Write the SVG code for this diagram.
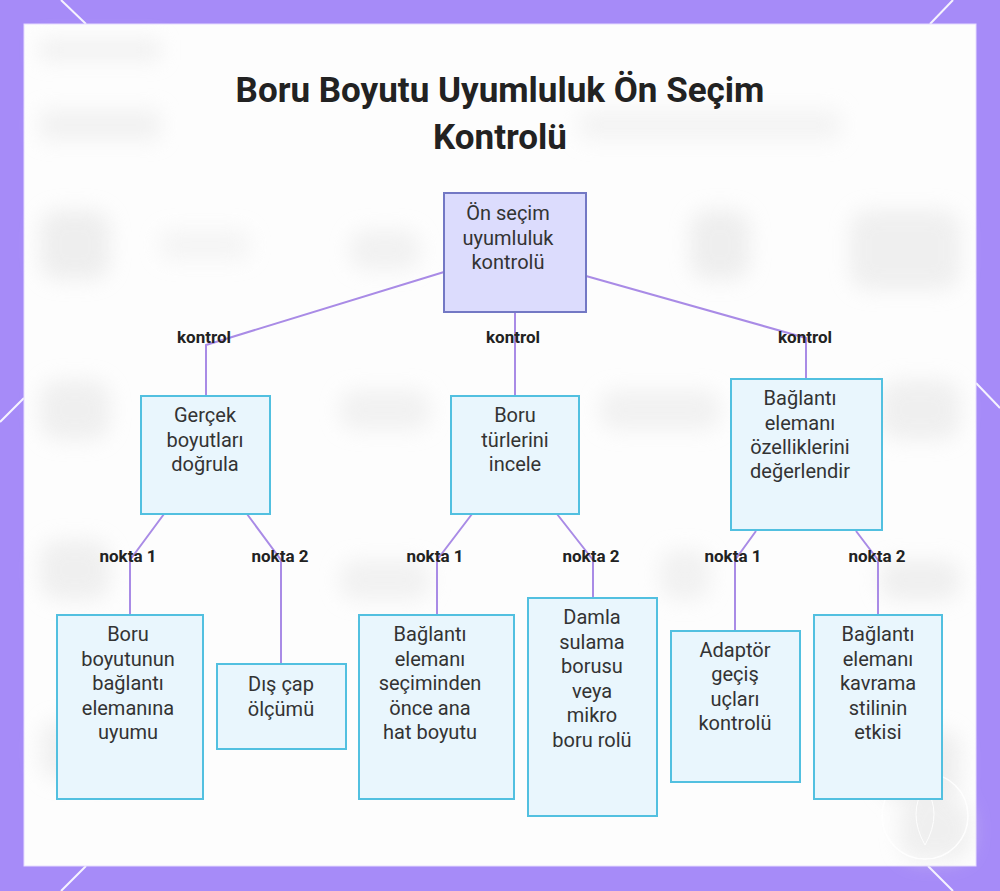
<svg xmlns="http://www.w3.org/2000/svg" width="1000" height="891" viewBox="0 0 1000 891">
<defs>
<style>
.bgline{stroke:#ffffff;stroke-width:2;opacity:0.9}
.node rect{stroke-width:2}
.root rect{fill:#dcdcfd;stroke:#7378c4}
.leaf rect{fill:#e9f6fd;stroke:#52c0e0}
.node text{font-family:Roboto,"Liberation Sans",sans-serif;font-size:20px;fill:#333333;text-anchor:middle;dominant-baseline:central}
.edge{fill:none;stroke:#a98be6;stroke-width:2}
.lbl{font-family:Roboto,"Liberation Sans",sans-serif;font-size:17px;font-weight:bold;fill:#222222;text-anchor:middle;dominant-baseline:central}
.title{font-family:Roboto,"Liberation Sans",sans-serif;font-size:35px;font-weight:bold;fill:#222222;text-anchor:middle}
</style>
<filter id="blur" x="-30%" y="-30%" width="160%" height="160%"><feGaussianBlur stdDeviation="10"/></filter>
</defs>
<rect x="0" y="0" width="1000" height="891" fill="#a68bf8"/>
<g id="frame-lines">
<line class="bgline" x1="61" y1="0" x2="86" y2="24"/>
<line class="bgline" x1="953" y1="0" x2="930" y2="24"/>
<line class="bgline" x1="0" y1="422" x2="24" y2="398"/>
<line class="bgline" x1="976" y1="383" x2="1000" y2="408"/>
<line class="bgline" x1="86" y1="866" x2="61" y2="891"/>
<line class="bgline" x1="928" y1="866" x2="953" y2="891"/>
</g>
<rect x="24" y="24" width="952" height="842" fill="#fdfdfd" stroke="#e6dcff" stroke-width="1"/>
<g id="blurred-bg" filter="url(#blur)" opacity="0.55">
<rect x="40" y="40" width="120" height="20" fill="#e6e6e6"/>
<rect x="40" y="110" width="120" height="30" fill="#e8e8e8"/>
<rect x="580" y="110" width="260" height="30" fill="#ececec"/>
<rect x="40" y="210" width="70" height="70" rx="20" fill="#e2e2e2"/>
<rect x="160" y="230" width="90" height="30" rx="10" fill="#eeeeee"/>
<rect x="350" y="230" width="70" height="40" rx="15" fill="#e8e8e8"/>
<rect x="690" y="210" width="60" height="70" rx="20" fill="#e2e2e2"/>
<rect x="850" y="210" width="110" height="80" rx="20" fill="#e4e4e4"/>
<rect x="40" y="380" width="70" height="60" rx="20" fill="#e4e4e4"/>
<rect x="340" y="390" width="90" height="40" rx="15" fill="#e8e8e8"/>
<rect x="600" y="390" width="120" height="40" rx="15" fill="#e8e8e8"/>
<rect x="880" y="380" width="80" height="60" rx="20" fill="#e4e4e4"/>
<rect x="40" y="540" width="70" height="60" rx="20" fill="#e4e4e4"/>
<rect x="340" y="560" width="90" height="40" rx="15" fill="#e8e8e8"/>
<rect x="660" y="550" width="50" height="50" rx="15" fill="#e8e8e8"/>
<rect x="880" y="560" width="80" height="40" rx="15" fill="#e4e4e4"/>
<rect x="40" y="720" width="80" height="60" rx="20" fill="#e6e6e6"/>
<rect x="880" y="730" width="80" height="70" rx="20" fill="#e2e2e2"/>
<rect x="900" y="800" width="70" height="60" rx="20" fill="#e4e4e4"/>
</g>
<g id="watermark" opacity="0.9">
<circle cx="925" cy="816" r="43" fill="none" stroke="#ffffff" stroke-width="1.5"/>
<path d="M925,786 Q943,813 925,845 Q907,813 925,786 Z" fill="#f0f0f0" stroke="#ffffff" stroke-width="1"/>
</g>
<g id="title">
<text class="title" x="500" y="102">Boru Boyutu Uyumluluk Ön Seçim</text>
<text class="title" x="500" y="149">Kontrolü</text>
</g>
<g id="connectors">
<path class="edge" d="M444,272 L206,345 L206,396"/>
<path class="edge" d="M515,312 L515,396"/>
<path class="edge" d="M586,276 L806,338 L806,379"/>
<path class="edge" d="M164,514 L130,560 L130,615"/>
<path class="edge" d="M247,514 L281,560 L281,664"/>
<path class="edge" d="M472,514 L437,560 L437,615"/>
<path class="edge" d="M557,514 L593,560 L593,598"/>
<path class="edge" d="M756,531 L735,560 L735,631"/>
<path class="edge" d="M856,531 L878,560 L878,615"/>
</g>
<g id="edge-labels">
<text class="lbl" x="204" y="337">kontrol</text>
<text class="lbl" x="513" y="337">kontrol</text>
<text class="lbl" x="805" y="337">kontrol</text>
<text class="lbl" x="128" y="556">nokta 1</text>
<text class="lbl" x="280" y="556">nokta 2</text>
<text class="lbl" x="435" y="556">nokta 1</text>
<text class="lbl" x="591" y="556">nokta 2</text>
<text class="lbl" x="733" y="556">nokta 1</text>
<text class="lbl" x="877" y="556">nokta 2</text>
</g>
<g id="n-root" class="node root">
<rect x="444" y="193" width="142" height="119"/>
<text x="508" y="213">Ön seçim</text>
<text x="508" y="238">uyumluluk</text>
<text x="508" y="262">kontrolü</text>
</g>
<g id="n-a" class="node leaf">
<rect x="141" y="396" width="129" height="118"/>
<text x="205" y="415">Gerçek</text>
<text x="205" y="440">boyutları</text>
<text x="205" y="464">doğrula</text>
</g>
<g id="n-b" class="node leaf">
<rect x="451" y="396" width="128" height="118"/>
<text x="515" y="415">Boru</text>
<text x="515" y="440">türlerini</text>
<text x="515" y="464">incele</text>
</g>
<g id="n-c" class="node leaf">
<rect x="731" y="379" width="151" height="151"/>
<text x="800" y="398">Bağlantı</text>
<text x="800" y="423">elemanı</text>
<text x="800" y="447">özelliklerini</text>
<text x="800" y="471">değerlendir</text>
</g>
<g id="n-a1" class="node leaf">
<rect x="57" y="615" width="146" height="184"/>
<text x="128" y="634">Boru</text>
<text x="128" y="659">boyutunun</text>
<text x="128" y="683">bağlantı</text>
<text x="128" y="708">elemanına</text>
<text x="128" y="732">uyumu</text>
</g>
<g id="n-a2" class="node leaf">
<rect x="217" y="664" width="129" height="85"/>
<text x="281" y="684">Dış çap</text>
<text x="281" y="709">ölçümü</text>
</g>
<g id="n-b1" class="node leaf">
<rect x="359" y="615" width="155" height="184"/>
<text x="430" y="634">Bağlantı</text>
<text x="430" y="659">elemanı</text>
<text x="430" y="683">seçiminden</text>
<text x="430" y="708">önce ana</text>
<text x="430" y="732">hat boyutu</text>
</g>
<g id="n-b2" class="node leaf">
<rect x="528" y="598" width="129" height="218"/>
<text x="592" y="617">Damla</text>
<text x="592" y="642">sulama</text>
<text x="592" y="666">borusu</text>
<text x="592" y="691">veya</text>
<text x="592" y="715">mikro</text>
<text x="592" y="740">boru rolü</text>
</g>
<g id="n-c1" class="node leaf">
<rect x="671" y="631" width="129" height="151"/>
<text x="735" y="650">Adaptör</text>
<text x="735" y="674">geçiş</text>
<text x="735" y="699">uçları</text>
<text x="735" y="723">kontrolü</text>
</g>
<g id="n-c2" class="node leaf">
<rect x="814" y="615" width="128" height="184"/>
<text x="878" y="634">Bağlantı</text>
<text x="878" y="659">elemanı</text>
<text x="878" y="683">kavrama</text>
<text x="878" y="708">stilinin</text>
<text x="878" y="732">etkisi</text>
</g>
</svg>
